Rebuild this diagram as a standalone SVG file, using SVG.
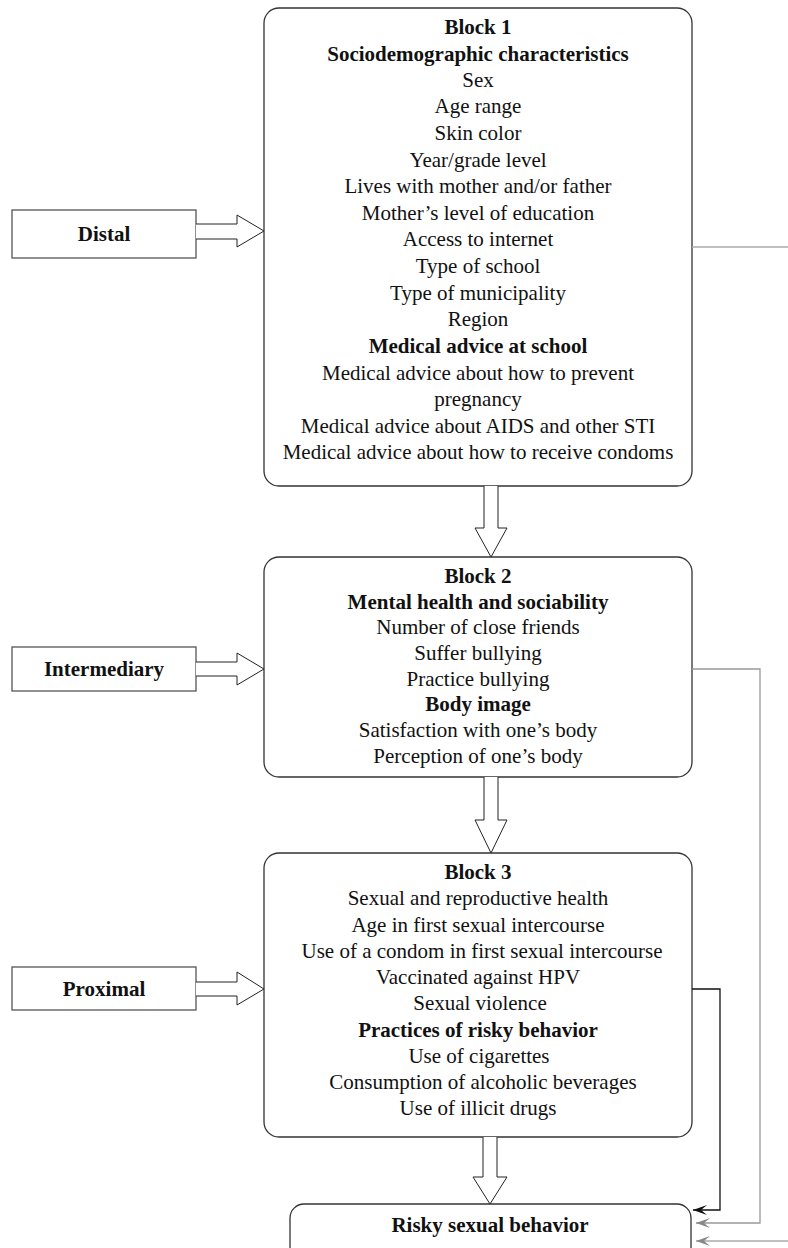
<svg xmlns="http://www.w3.org/2000/svg" width="788" height="1248" viewBox="0 0 788 1248">
<style>
text{font-family:"Liberation Serif","Times New Roman",serif;font-size:21px;fill:#111;text-anchor:middle}
.b{font-weight:bold}
.blk{fill:#fff;stroke:#333;stroke-width:1.3}
.lab{fill:#fff;stroke:#555;stroke-width:1.3}
.arr{fill:#fff;stroke:#222;stroke-width:1}
.c{fill:none;stroke-width:1.3}
</style>
<defs>
<marker id="mk" markerWidth="14" markerHeight="10" refX="14" refY="5" orient="auto" markerUnits="userSpaceOnUse" viewBox="0 0 14 10">
<path d="M14,5 L0,0 L6,5 L0,10 Z" fill="#111"/>
</marker>
<marker id="mg" markerWidth="14" markerHeight="10" refX="14" refY="5" orient="auto" markerUnits="userSpaceOnUse" viewBox="0 0 14 10">
<path d="M14,5 L0,0 L6,5 L0,10 Z" fill="#888"/>
</marker>
</defs>

<g id="distal">
<rect class="lab" x="12" y="210" width="184" height="48"/>
<text class="b" x="104" y="241">Distal</text>
</g>
<g id="intermediary">
<rect class="lab" x="12" y="647" width="184" height="44"/>
<text class="b" x="104" y="676">Intermediary</text>
</g>
<g id="proximal">
<rect class="lab" x="12" y="967" width="184" height="43"/>
<text class="b" x="104" y="996">Proximal</text>
</g>

<g id="block1">
<rect class="blk" x="264" y="8" width="428" height="478" rx="15"/>
<text class="b" x="478" y="34">Block 1</text>
<text class="b" x="478" y="61">Sociodemographic characteristics</text>
<text x="478" y="87">Sex</text>
<text x="478" y="113">Age range</text>
<text x="478" y="140">Skin color</text>
<text x="478" y="167">Year/grade level</text>
<text x="478" y="193">Lives with mother and/or father</text>
<text x="478" y="220">Mother’s level of education</text>
<text x="478" y="246">Access to internet</text>
<text x="478" y="273">Type of school</text>
<text x="478" y="300">Type of municipality</text>
<text x="478" y="326">Region</text>
<text class="b" x="478" y="353">Medical advice at school</text>
<text x="478" y="380">Medical advice about how to prevent</text>
<text x="478" y="406">pregnancy</text>
<text x="478" y="433">Medical advice about AIDS and other STI</text>
<text x="478" y="459">Medical advice about how to receive condoms</text>
</g>

<g id="block2">
<rect class="blk" x="264" y="557" width="428" height="220" rx="15"/>
<text class="b" x="478" y="583">Block 2</text>
<text class="b" x="478" y="609">Mental health and sociability</text>
<text x="478" y="634">Number of close friends</text>
<text x="478" y="660">Suffer bullying</text>
<text x="478" y="686">Practice bullying</text>
<text class="b" x="478" y="711">Body image</text>
<text x="478" y="737">Satisfaction with one’s body</text>
<text x="478" y="763">Perception of one’s body</text>
</g>

<g id="block3">
<rect class="blk" x="264" y="853" width="428" height="284" rx="15"/>
<text class="b" x="478" y="879">Block 3</text>
<text x="478" y="905">Sexual and reproductive health</text>
<text x="478" y="932">Age in first sexual intercourse</text>
<text x="482" y="958">Use of a condom in first sexual intercourse</text>
<text x="478" y="984">Vaccinated against HPV</text>
<text x="480" y="1010">Sexual violence</text>
<text class="b" x="478" y="1037">Practices of risky behavior</text>
<text x="479" y="1063">Use of cigarettes</text>
<text x="483" y="1089">Consumption of alcoholic beverages</text>
<text x="478" y="1115">Use of illicit drugs</text>
</g>

<g id="outcome">
<rect class="blk" x="290" y="1204" width="401" height="60" rx="14"/>
<text class="b" x="490" y="1232">Risky sexual behavior</text>
</g>

<g id="connectors">
<path class="c" d="M692,247 H788" stroke="#aaa"/>
<path class="c" d="M692,669 H760 V1223 H696" stroke="#999" marker-end="url(#mg)"/>
<path class="c" d="M692,989 H720 V1210 H693" stroke="#111" marker-end="url(#mk)"/>
<path class="c" d="M788,1241 H696" stroke="#aaa" marker-end="url(#mg)"/>
<path class="arr" d="M196,224 H237 V215 L264,231 L237,247 V239 H196"/>
<path class="arr" d="M196,662 H237 V653 L264,669 L237,685 V676 H196"/>
<path class="arr" d="M196,982 H237 V972 L264,989 L237,1005 V996 H196"/>
<path class="arr" d="M484,486 V528 H475 L491,557 L507,528 H498 V486"/>
<path class="arr" d="M484,777 V820 H475 L491,853 L507,820 H498 V777"/>
<path class="arr" d="M483,1137 V1177 H473 L490,1204 L507,1177 H497 V1137"/>
</g>
</svg>
